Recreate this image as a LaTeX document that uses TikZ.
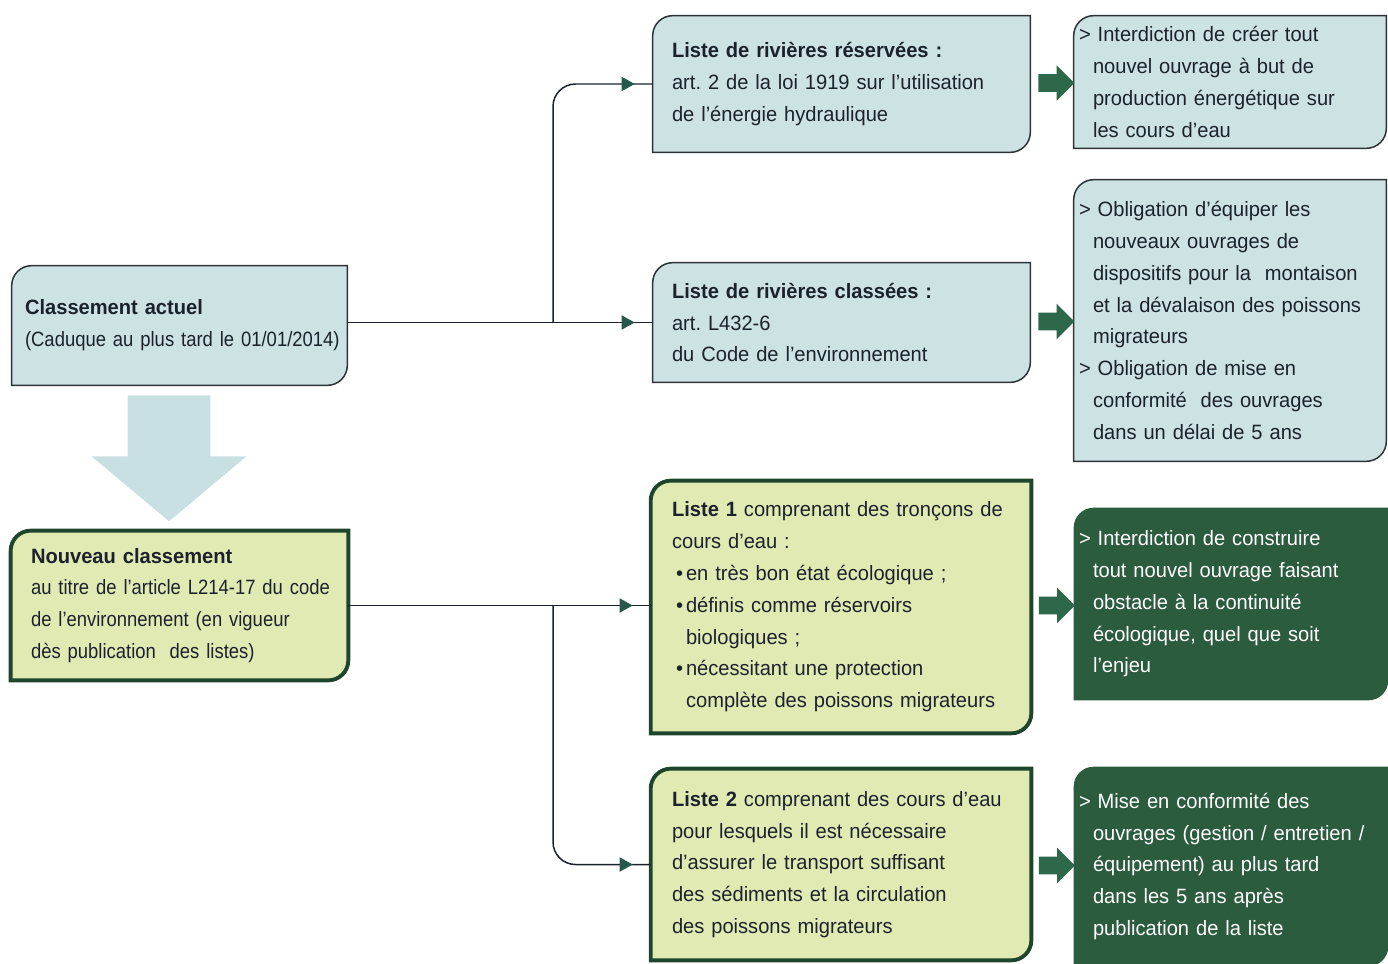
\documentclass[tikz,border=0pt]{standalone}
\usepackage{fontspec}
\setmainfont{Liberation Sans}[FakeStretch=0.97]
\newfontfamily\narrowfont{Liberation Sans}[FakeStretch=0.89]
\usetikzlibrary{arrows.meta,shapes.arrows,calc,backgrounds,decorations.markings}

\definecolor{paleblue}{RGB}{204,226,227}
\definecolor{palegreen}{RGB}{226,234,180}
\definecolor{deepgreen}{RGB}{44,92,62}
\definecolor{rimgreen}{RGB}{30,70,44}
\definecolor{arrowgreen}{RGB}{46,104,74}
\definecolor{tipgreen}{RGB}{38,88,76}
\definecolor{inkdark}{RGB}{28,34,44}
\definecolor{rimdark}{RGB}{45,50,55}
\definecolor{bigblue}{RGB}{201,224,226}

\newcommand{\bodyfont}{\fontsize{11.8}{18.1}\selectfont\frenchspacing}
\newcommand{\itemgt}{\hangindent=0.28cm\hangafter=1 >\ }
\newcommand{\itembul}{\hangindent=0.28cm\hangafter=1\makebox[0.28cm][l]{\hspace{0.08cm}•}}

\tikzset{
  box/.style={rectangle, inner sep=0pt, align=left, text=inkdark, font=\bodyfont},
  lm/.style={execute at begin node={\leftskip=#1\rightskip=-2cm plus 1fil}},
  bluebox/.style={fill=paleblue, draw=rimdark, line width=0.85pt},
  greenbox/.style={fill=palegreen, draw=rimgreen, line width=2.2pt},
  darkbox/.style={fill=deepgreen},
  fatarrow/.style={single arrow, fill=arrowgreen, inner xsep=0pt, inner ysep=0.17cm,
    minimum height=0.72cm, single arrow head extend=0.18cm, single arrow tip angle=90},
  conn/.style={draw=inkdark, line width=0.85pt, postaction={decorate},
    decoration={markings, mark=at position -0.36cm with
      {\arrow{Triangle[length=0.26cm,width=0.28cm,color=tipgreen]}}}}
}

\begin{document}
\begin{tikzpicture}[x=0.02cm,y=-0.02cm]
  \useasboundingbox (0,0) rectangle (1388,963);

  % left column
  \node[box, lm=0.26cm, text width=6.7cm, minimum height=2.38cm] (actuel) at (179.5,325.5)
    {\textbf{Classement actuel}\\{\narrowfont(Caduque au plus tard le 01/01/2014)}};
  \node[box, lm=0.4cm, text width=6.74cm, minimum height=2.98cm] (nouveau) at (179.5,605.5)
    {\textbf{Nouveau classement}\\{\narrowfont au titre de l’article L214-17 du code}\\
     {\narrowfont de l’environnement (en vigueur}\\{\narrowfont dès publication\ \ des listes)}};
  \node[single arrow, rotate=-90, fill=bigblue, inner xsep=0pt, inner ysep=0.82cm,
    minimum height=2.52cm, single arrow head extend=0.72cm, single arrow tip angle=100,
    anchor=tail] (down) at (169,395) {};

  % middle column
  \node[box, lm=0.38cm, text width=7.54cm, minimum height=2.72cm] (reservees) at (841.5,84)
    {\textbf{Liste de rivières réservées :}\\art. 2 de la loi 1919 sur l’utilisation\\de l’énergie hydraulique};
  \node[box, lm=0.38cm, text width=7.54cm, minimum height=2.38cm] (classees) at (841.5,322.5)
    {\textbf{Liste de rivières classées :}\\art. L432-6\\du Code de l’environnement};
  \node[box, lm=0.42cm, text width=7.6cm, minimum height=5.04cm] (liste1) at (841,607)
    {\textbf{Liste 1} comprenant des tronçons de\\cours d’eau :\par
     \itembul en très bon état écologique ;\par
     \itembul définis comme réservoirs\newline biologiques ;\par
     \itembul nécessitant une protection\newline complète des poissons migrateurs\par};
  \node[box, lm=0.42cm, text width=7.6cm, minimum height=3.82cm] (liste2) at (841,864.5)
    {\textbf{Liste 2} comprenant des cours d’eau\\pour lesquels il est nécessaire\\d’assurer le transport suffisant\\des sédiments et la circulation\\des poissons migrateurs};

  % right column
  \node[box, lm=0.1cm, text width=6.24cm, minimum height=2.64cm] (interdiction) at (1230,82)
    {\itemgt Interdiction de créer tout\newline nouvel ouvrage à but de\newline production énergétique sur\newline les cours d’eau\par};
  \node[box, lm=0.1cm, text width=6.24cm, minimum height=5.62cm] (obligation) at (1230,320.5)
    {\itemgt Obligation d’équiper les\newline nouveaux ouvrages de\newline dispositifs pour la\ \ montaison\newline et la dévalaison des poissons\newline migrateurs\par
     \itemgt Obligation de mise en\newline conformité\ \ des ouvrages\newline dans un délai de 5 ans\par};
  \node[box, text=white, lm=0.1cm, text width=6.28cm, minimum height=3.84cm] (construire) at (1231,604)
    {\itemgt Interdiction de construire\newline tout nouvel ouvrage faisant\newline obstacle à la continuité\newline écologique, quel que soit\newline l’enjeu\par};
  \node[box, text=white, lm=0.1cm, text width=6.28cm, minimum height=3.98cm] (conformite) at (1231,866.5)
    {\itemgt Mise en conformité des\newline ouvrages (gestion / entretien /\newline équipement) au plus tard\newline dans les 5 ans après\newline publication de la liste\par};

  % box outlines, rounded top left and bottom right only
  \begin{scope}[on background layer]
    \foreach \n/\s in {actuel/bluebox, reservees/bluebox, classees/bluebox,
                       interdiction/bluebox, obligation/bluebox, nouveau/greenbox,
                       liste1/greenbox, liste2/greenbox, construire/darkbox, conformite/darkbox}
      \path[\s] (\n.south west) -- ([yshift=-0.4cm]\n.north west)
        arc[start angle=180, end angle=90, radius=0.4cm] -- (\n.north east)
        -- ([yshift=0.4cm]\n.south east)
        arc[start angle=0, end angle=-90, radius=0.4cm] -- cycle;
  \end{scope}

  % fat arrows between lists and effects
  \node[fatarrow] (f1) at ($(reservees.east)!0.5!(interdiction.west)$) {};
  \node[fatarrow] (f2) at ($(classees.east)!0.5!(obligation.west)$) {};
  \node[fatarrow] (f3) at ($(liste1.east)!0.5!(construire.west)$) {};
  \node[fatarrow] (f4) at ($(liste2.east)!0.5!(conformite.west)$) {};

  % connectors
  \coordinate (j1) at (553,0 |- classees.west);
  \coordinate (j2) at (553,0 |- nouveau.east);
  \draw[conn] (actuel.east |- classees.west) -- (classees.west);
  \draw[conn, rounded corners=0.45cm] (j1) |- (reservees.west);
  \draw[conn] (nouveau.east) -- (nouveau.east -| liste1.west);
  \draw[conn, rounded corners=0.45cm] (j2) |- (liste2.west);
\end{tikzpicture}
\end{document}
